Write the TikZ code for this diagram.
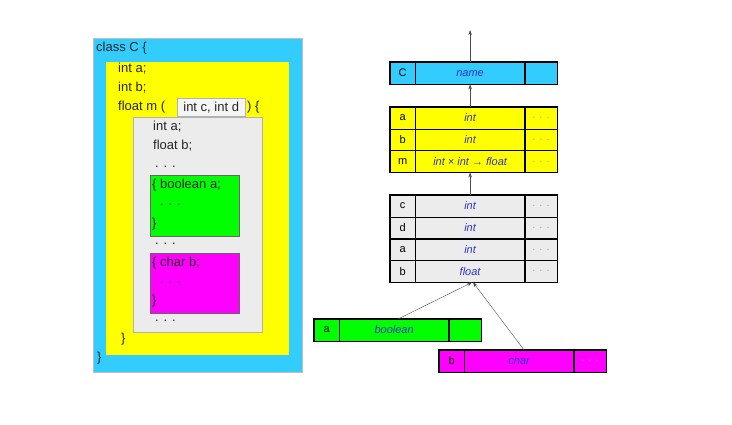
\documentclass[tikz,border=0pt]{standalone}
\usepackage{fontspec}
\setmainfont{Liberation Sans}
\usetikzlibrary{positioning,arrows.meta}
\definecolor{skyblue}{HTML}{33CCFF}
\definecolor{lemon}{HTML}{FFFF00}
\definecolor{lime}{HTML}{00FF00}
\definecolor{pink}{HTML}{FF00FF}
\definecolor{typeblue}{HTML}{3333CC}

\begin{document}
\begin{tikzpicture}[
    x=1pt, y=-1pt,
    area/.style={
        rectangle,
        anchor=north west,
        inner sep=0pt
    },
    code/.style={anchor=west, inner sep=0pt, font=\fontsize{13}{15}\selectfont, text=black!85},
    lab/.style={
        rectangle,
        draw=black,
        minimum width=25pt,
        minimum height=21.7pt,
        inner sep=0pt,
        font=\fontsize{11}{13}\selectfont
    },
    typ/.style={lab, minimum width=109pt, text=typeblue, font=\fontsize{11}{13}\selectfont\itshape},
    more/.style={lab, minimum width=32pt, text=gray!70},
    frame/.style={draw=black, line width=1.2pt},
    arrow/.style={-{Stealth[length=5pt,width=3.5pt]}, thin, draw=black!70}
]
\useasboundingbox (0,0) rectangle (732,424);

% source program, nested scopes
\node[area, fill=skyblue, draw=gray!50, minimum width=209pt, minimum height=334pt] (clsbox) at (93,38) {};
\node[area, fill=lemon, minimum width=183pt, minimum height=293pt] (bodybox) at (106,62) {};
\node[area, fill=gray!15, draw=gray!60, minimum width=129pt, minimum height=215pt] (methbox) at (133,117) {};
\node[area, fill=lime, draw=black!60, minimum width=89pt, minimum height=61pt] (boolbox) at (150,175) {};
\node[area, fill=pink, draw=black!60, minimum width=89pt, minimum height=60pt] (charbox) at (150,253) {};
\node[area, fill=gray!8, draw=gray!60, minimum width=68pt, minimum height=18pt,
      font=\fontsize{13}{15}\selectfont, text=black!85] (params) at (177,98) {int c, int d};

\node[code] (cls) at (96,48) {class C \{};
\node[code] (fa) at (118,69) {int a;};
\node[code] (fb) at (118,88) {int b;};
\node[code] (fm) at (118,107) {float m (};
\node[code] (fmend) at (247,107) {) \{};
\node[code] (la) at (153,127) {int a;};
\node[code] (lb) at (153,146) {float b;};
\node[code] (dots1) at (155,167) {. . .};
\node[code] (bopen) at (152,185) {\{ boolean a;};
\node[code] (bdots) at (160,205) {. . .};
\node[code] (bclose) at (152,224) {\}};
\node[code] (dots2) at (155,244) {. . .};
\node[code] (copen) at (152,263) {\{ char b;};
\node[code] (cdots) at (160,283) {. . .};
\node[code] (cclose) at (152,301) {\}};
\node[code] (dots3) at (155,321) {. . .};
\node[code] (mclose) at (121,339) {\}};
\node[code] (clsclose) at (97,358) {\}};

% symbol tables
\node[lab, fill=skyblue, anchor=north west, minimum height=22pt] (cC) at (390,62) {C};
\node[typ, fill=skyblue, minimum height=22pt, right=0pt of cC] (tC) {name};
\node[more, fill=skyblue, minimum height=22pt, right=0pt of tC] (mC) {};
\draw[frame] (cC.north west) rectangle (mC.south east);

\foreach \v/\t [count=\i] in {a/int, b/int, m/{int × int → float}} {
    \node[lab, fill=lemon, anchor=north west] (yc\i) at (390,{107+(\i-1)*21.7}) {\v};
    \node[typ, fill=lemon, right=0pt of yc\i] (yt\i) {\t};
    \node[more, fill=lemon, right=0pt of yt\i] (ym\i) {. . .};
}
\draw[frame] (yc1.north west) rectangle (ym3.south east);

\foreach \v/\t [count=\i] in {c/int, d/int, a/int, b/float} {
    \node[lab, fill=gray!15, anchor=north west] (gc\i) at (390,{195+(\i-1)*21.75}) {\v};
    \node[typ, fill=gray!15, right=0pt of gc\i] (gt\i) {\t};
    \node[more, fill=gray!15, right=0pt of gt\i] (gm\i) {. . .};
}
\draw[frame] (gc1.north west) rectangle (gm4.south east);

\node[lab, fill=lime, anchor=north west] (bc) at (314,319) {a};
\node[typ, fill=lime, right=0pt of bc] (bt) {boolean};
\node[more, fill=lime, right=0pt of bt] (bm) {};
\draw[frame] (bc.north west) rectangle (bm.south east);

\node[lab, fill=pink, anchor=north west] (pc) at (439,350) {b};
\node[typ, fill=pink, right=0pt of pc] (pt) {char};
\node[more, fill=pink, right=0pt of pt] (pm) {. . .};
\draw[frame] (pc.north west) rectangle (pm.south east);

\coordinate (top) at ([yshift=32pt]tC.north);
\draw[arrow] (tC.north) -- (top);
\draw[arrow] (yt1.north) -- (tC.south);
\draw[arrow] (gt1.north) -- (yt3.south);
\draw[arrow] ([xshift=4pt]bt.north) -- ([xshift=2pt]gt4.south);
\draw[arrow] ([xshift=5pt]pt.north) -- ([xshift=3pt]gt4.south);

\end{tikzpicture}
\end{document}
